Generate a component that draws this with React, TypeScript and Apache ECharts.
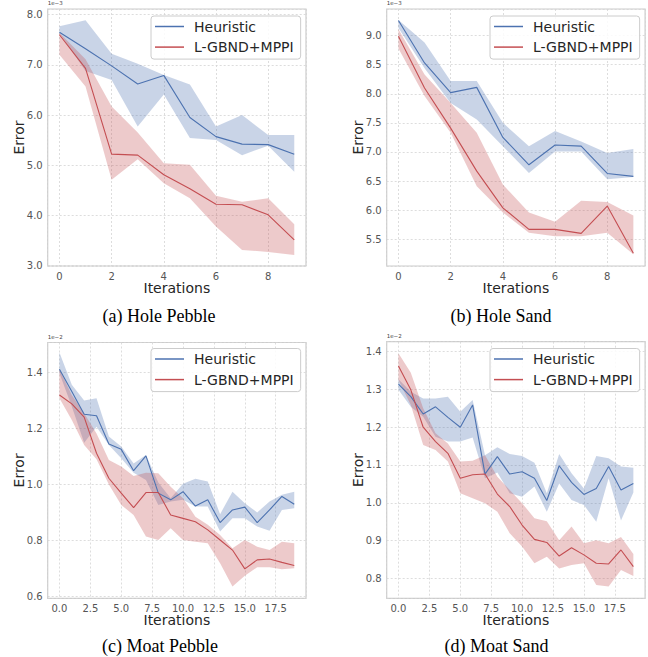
import React, { useEffect, useRef } from "react";
import * as echarts from "echarts";

// ---------- data (errors shown in units of the axis offset: 1e-3 or 1e-2) ----------
const iterations10 = [0, 1, 2, 3, 4, 5, 6, 7, 8, 9];
const iterations20 = [0, 1, 2, 3, 4, 5, 6, 7, 8, 9, 10, 11, 12, 13, 14, 15, 16, 17, 18, 19];

const seriesNames = ["Heuristic", "L-GBND+MPPI"];
const captions = ["(a) Hole Pebble", "(b) Hole Sand", "(c) Moat Pebble", "(d) Moat Sand"];
const offsetLabels = ["1e\u22123", "1e\u22123", "1e\u22122", "1e\u22122"];

// (a) Hole Pebble, x1e-3
const hpHeurMean = [7.65, 7.32, 6.98, 6.62, 6.79, 5.95, 5.57, 5.42, 5.41, 5.22];
const hpHeurUpper = [7.77, 7.89, 7.22, 7.02, 6.8, 6.61, 5.77, 6.0, 5.6, 5.6];
const hpHeurLower = [7.63, 6.88, 6.7, 5.77, 6.41, 5.54, 5.5, 5.2, 5.39, 4.87];
const hpGbndMean = [7.6, 6.93, 5.22, 5.2, 4.81, 4.53, 4.22, 4.21, 4.01, 3.51];
const hpGbndUpper = [7.64, 7.11, 6.17, 5.65, 5.04, 5.01, 4.39, 4.27, 4.34, 3.82];
const hpGbndLower = [7.2, 6.57, 4.71, 5.12, 4.64, 4.34, 3.78, 3.31, 3.27, 3.21];

// (b) Hole Sand, x1e-3
const hsHeurMean = [9.26, 8.53, 8.02, 8.11, 7.25, 6.78, 7.12, 7.1, 6.63, 6.58];
const hsHeurUpper = [9.27, 8.88, 8.22, 8.22, 7.5, 7.1, 7.36, 7.18, 6.98, 7.05];
const hsHeurLower = [9.13, 8.44, 7.84, 7.56, 7.1, 6.64, 7.01, 7.01, 6.53, 6.57];
const hsGbndMean = [8.99, 8.1, 7.41, 6.67, 6.04, 5.67, 5.67, 5.6, 6.07, 5.26];
const hsGbndUpper = [9.11, 8.33, 7.84, 7.33, 6.44, 5.96, 5.8, 6.16, 6.14, 5.91];
const hsGbndLower = [8.78, 7.96, 7.33, 6.41, 5.96, 5.61, 5.55, 5.55, 5.61, 5.24];

// (c) Moat Pebble, x1e-2
const mpHeurMean = [1.411, 1.331, 1.25, 1.245, 1.144, 1.125, 1.049, 1.102, 0.969, 0.945, 0.974, 0.923, 0.945, 0.864, 0.909, 0.919, 0.864, 0.909, 0.957, 0.929];
const mpHeurUpper = [1.47, 1.355, 1.299, 1.307, 1.171, 1.135, 1.075, 1.105, 1.007, 0.951, 1.002, 1.02, 1.01, 0.894, 0.974, 0.933, 0.9, 0.939, 0.963, 0.974];
const mpHeurLower = [1.396, 1.278, 1.149, 1.206, 1.141, 1.093, 1.042, 1.016, 0.927, 0.939, 0.945, 0.921, 0.921, 0.832, 0.879, 0.879, 0.85, 0.835, 0.909, 0.915];
const mpGbndMean = [1.319, 1.287, 1.24, 1.111, 1.022, 0.969, 0.917, 0.971, 0.971, 0.891, 0.879, 0.867, 0.838, 0.802, 0.766, 0.699, 0.731, 0.734, 0.722, 0.711];
const mpGbndUpper = [1.411, 1.319, 1.254, 1.182, 1.087, 1.064, 1.03, 1.042, 1.04, 0.992, 0.951, 0.885, 0.856, 0.82, 0.772, 0.802, 0.778, 0.766, 0.796, 0.79];
const mpGbndLower = [1.307, 1.23, 1.141, 1.09, 1.0, 0.927, 0.891, 0.814, 0.802, 0.844, 0.802, 0.796, 0.79, 0.719, 0.636, 0.674, 0.705, 0.705, 0.698, 0.701];

// (d) Moat Sand, x1e-2
const msHeurMean = [1.314, 1.281, 1.235, 1.254, 1.226, 1.2, 1.259, 1.076, 1.122, 1.076, 1.082, 1.065, 1.006, 1.098, 1.054, 1.022, 1.038, 1.096, 1.034, 1.051];
const msHeurUpper = [1.327, 1.294, 1.276, 1.276, 1.281, 1.241, 1.272, 1.126, 1.147, 1.129, 1.124, 1.106, 1.025, 1.129, 1.078, 1.038, 1.124, 1.118, 1.096, 1.093];
const msHeurLower = [1.299, 1.254, 1.228, 1.175, 1.162, 1.162, 1.173, 1.065, 1.08, 1.025, 1.016, 1.043, 0.976, 1.051, 1.007, 0.994, 0.95, 1.065, 0.953, 1.027];
const msGbndMean = [1.362, 1.299, 1.2, 1.162, 1.131, 1.065, 1.074, 1.076, 1.023, 0.99, 0.941, 0.903, 0.895, 0.859, 0.881, 0.862, 0.84, 0.838, 0.875, 0.831];
const msGbndUpper = [1.396, 1.344, 1.25, 1.184, 1.157, 1.109, 1.111, 1.126, 1.069, 1.034, 0.999, 0.959, 0.951, 0.901, 0.937, 0.893, 0.901, 0.893, 0.909, 0.864];
const msGbndLower = [1.325, 1.259, 1.153, 1.14, 1.109, 1.025, 1.012, 0.999, 0.976, 0.919, 0.884, 0.84, 0.857, 0.826, 0.835, 0.84, 0.782, 0.778, 0.822, 0.806];

// ---------- styling / layout ----------
const BLUE = "#4c72b0";
const RED = "#c44e52";
const SANS = "DejaVu Sans";

type Band = { mean: number[]; upper: number[]; lower: number[] };
type Panel = {
  x: number[];
  heur: Band;
  gbnd: Band;
  grid: { left: number; top: number; width: number; height: number };
  xRange: [number, number];
  xStep: number;
  xDec: number;
  yRange: [number, number];
  yStep: number;
  yDec: number;
  legend: { left: number; top: number };
  caption: { x: number; y: number };
};

const panels: Panel[] = [
  {
    x: iterations10,
    heur: { mean: hpHeurMean, upper: hpHeurUpper, lower: hpHeurLower },
    gbnd: { mean: hpGbndMean, upper: hpGbndUpper, lower: hpGbndLower },
    grid: { left: 47.7, top: 9, width: 258.3, height: 257 },
    xRange: [-0.45, 9.45], xStep: 2, xDec: 0,
    yRange: [2.99, 8.114], yStep: 1, yDec: 1,
    legend: { left: 151, top: 16 },
    caption: { x: 159, y: 316 },
  },
  {
    x: iterations10,
    heur: { mean: hsHeurMean, upper: hsHeurUpper, lower: hsHeurLower },
    gbnd: { mean: hsGbndMean, upper: hsGbndUpper, lower: hsGbndLower },
    grid: { left: 386.7, top: 9, width: 258.4, height: 257 },
    xRange: [-0.45, 9.45], xStep: 2, xDec: 0,
    yRange: [5.04, 9.457], yStep: 0.5, yDec: 1,
    legend: { left: 490, top: 16 },
    caption: { x: 501, y: 316 },
  },
  {
    x: iterations20,
    heur: { mean: mpHeurMean, upper: mpHeurUpper, lower: mpHeurLower },
    gbnd: { mean: mpGbndMean, upper: mpGbndUpper, lower: mpGbndLower },
    grid: { left: 47.7, top: 342.5, width: 258.3, height: 255.8 },
    xRange: [-0.95, 19.95], xStep: 2.5, xDec: 1,
    yRange: [0.594, 1.506], yStep: 0.2, yDec: 1,
    legend: { left: 151, top: 348.5 },
    caption: { x: 160, y: 646 },
  },
  {
    x: iterations20,
    heur: { mean: msHeurMean, upper: msHeurUpper, lower: msHeurLower },
    gbnd: { mean: msGbndMean, upper: msGbndUpper, lower: msGbndLower },
    grid: { left: 386.7, top: 341.7, width: 258.4, height: 256.6 },
    xRange: [-0.95, 19.95], xStep: 2.5, xDec: 1,
    yRange: [0.747, 1.4265], yStep: 0.1, yDec: 1,
    legend: { left: 490, top: 348.5 },
    caption: { x: 496.5, y: 646 },
  },
];

function bandSeries(i: number, xs: number[], b: Band, color: string, z: number) {
  return {
    type: "custom",
    name: `band-${i}-${color}`,
    xAxisIndex: i,
    yAxisIndex: i,
    silent: true,
    clip: true,
    z,
    encode: { x: 0, y: [1, 2] },
    data: xs.map((x, j) => [x, b.lower[j], b.upper[j]]),
    renderItem: (params: any, api: any) => {
      if (params.dataIndex !== 0) return null;
      const pts: number[][] = [];
      for (let j = 0; j < xs.length; j++) pts.push(api.coord([xs[j], b.upper[j]]));
      for (let j = xs.length - 1; j >= 0; j--) pts.push(api.coord([xs[j], b.lower[j]]));
      return {
        type: "polygon",
        shape: { points: pts },
        style: { fill: color, opacity: 0.3 },
      };
    },
  };
}

function buildOption() {
  const grid: any[] = [];
  const xAxis: any[] = [];
  const yAxis: any[] = [];
  const series: any[] = [];
  const legend: any[] = [];
  const graphic: any[] = [];

  panels.forEach((p, i) => {
    grid.push({
      ...p.grid,
      show: true,
      borderColor: "#cccccc",
      borderWidth: 1.2,
      backgroundColor: "#ffffff",
      containLabel: false,
    });
    const splitLine = { show: true, lineStyle: { color: "#d4d4d4", width: 0.8, type: [2, 2] } };
    xAxis.push({
      type: "value",
      gridIndex: i,
      min: p.xRange[0],
      max: p.xRange[1],
      minInterval: p.xStep,
      maxInterval: p.xStep,
      axisLine: { show: false },
      axisTick: { show: false },
      splitLine,
      axisLabel: {
        showMinLabel: false,
        showMaxLabel: false,
        margin: 5,
        fontFamily: SANS,
        fontSize: 10,
        lineHeight: 10,
        color: "#555555",
        formatter: (v: number) => v.toFixed(p.xDec),
      },
      name: "Iterations",
      nameLocation: "middle",
      nameGap: 15,
      nameMoveOverlap: false,
      nameTextStyle: { fontFamily: SANS, fontSize: 14, lineHeight: 14, color: "#262626" },
    });
    yAxis.push({
      type: "value",
      gridIndex: i,
      min: p.yRange[0],
      max: p.yRange[1],
      minInterval: p.yStep,
      maxInterval: p.yStep,
      axisLine: { show: false },
      axisTick: { show: false },
      splitLine,
      axisLabel: {
        showMinLabel: false,
        showMaxLabel: false,
        margin: 5,
        fontFamily: SANS,
        fontSize: 10,
        lineHeight: 10,
        color: "#555555",
        formatter: (v: number) => v.toFixed(p.yDec),
      },
      name: "Error",
      nameLocation: "middle",
      nameGap: 22,
      nameMoveOverlap: false,
      nameTextStyle: { fontFamily: SANS, fontSize: 14, lineHeight: 14, color: "#262626" },
    });

    series.push(bandSeries(i, p.x, p.heur, BLUE, 1));
    series.push(bandSeries(i, p.x, p.gbnd, RED, 2));

    const groups: [string, string, Band][] = [
      [seriesNames[0], BLUE, p.heur],
      [seriesNames[1], RED, p.gbnd],
    ];
    groups.forEach(([name, color, b]) => {
      series.push({
        type: "line",
        name,
        color,
        xAxisIndex: i,
        yAxisIndex: i,
        symbol: "none",
        lineStyle: { color, width: 1.1 },
        itemStyle: { color },
        data: p.x.map((x, j) => [x, b.mean[j]]),
        z: 5,
      });
    });

    legend.push({
      orient: "vertical",
      left: p.legend.left,
      top: p.legend.top,
      icon: "rect",
      itemWidth: 29,
      itemHeight: 1.5,
      itemGap: 6.6,
      padding: [3.5, 7, 5, 4],
      backgroundColor: "rgba(255,255,255,0.85)",
      borderColor: "#cccccc",
      borderWidth: 1,
      borderRadius: 3,
      selectedMode: false,
      textStyle: { fontFamily: SANS, fontSize: 14, color: "#262626", padding: [0, 0, 0, 5] },
      data: seriesNames,
    });

    graphic.push({
      type: "text",
      x: p.grid.left,
      y: p.grid.top - 6,
      style: {
        text: offsetLabels[i],
        font: `5.5px "${SANS}"`,
        fill: "#444444",
        align: "left",
        verticalAlign: "middle",
      },
    });
    graphic.push({
      type: "text",
      x: p.caption.x,
      y: p.caption.y,
      style: {
        text: captions[i],
        font: `18px "Liberation Serif"`,
        fill: "#000000",
        align: "center",
        verticalAlign: "middle",
      },
    });
  });

  return {
    animation: false,
    backgroundColor: "#ffffff",
    grid,
    xAxis,
    yAxis,
    series,
    legend,
    graphic,
  };
}

export default function App() {
  const ref = useRef<HTMLDivElement>(null);
  useEffect(() => {
    if (!ref.current) return;
    const chart = echarts.init(ref.current, undefined, { renderer: "svg" });
    chart.setOption(buildOption() as any);
    return () => chart.dispose();
  }, []);
  return (
    <div
      ref={ref}
      style={{ position: "fixed", left: 0, top: 0, width: 648, height: 657, background: "#ffffff" }}
    />
  );
}
